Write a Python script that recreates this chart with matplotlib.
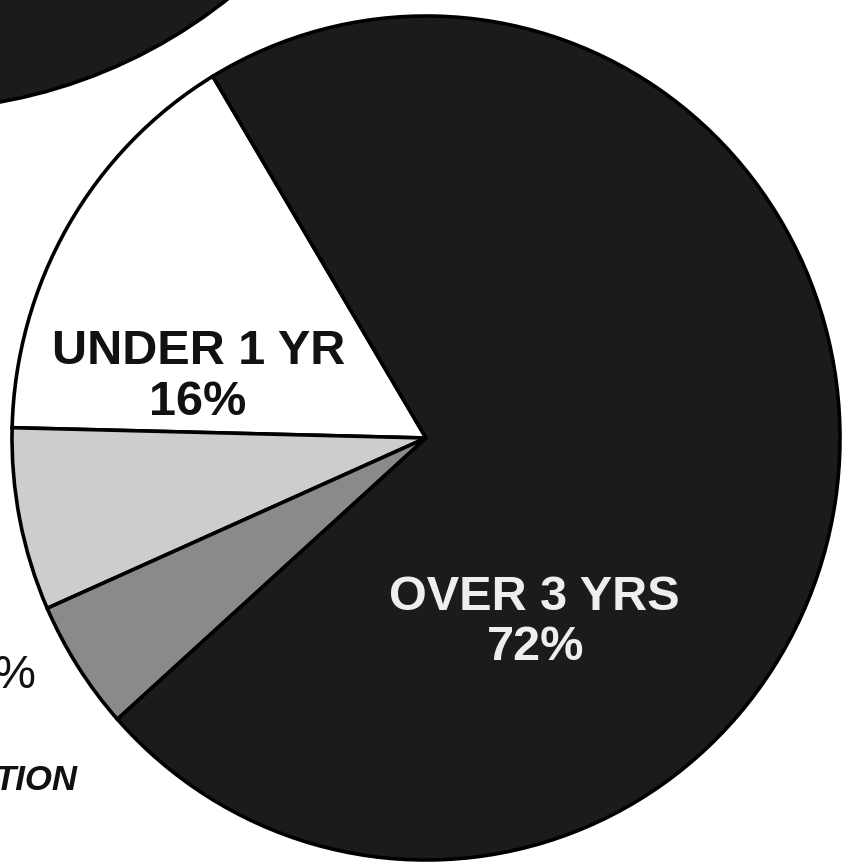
import matplotlib
matplotlib.use("Agg")
import matplotlib.pyplot as plt
from matplotlib.patches import Ellipse

# ---- data ----
categories = ["UNDER 1 YR", "1-2 YRS", "2-3 YRS", "OVER 3 YRS"]
shares = [16, 7, 5, 72]
slice_colors = ["#ffffff", "#cdcdcd", "#8a8a8a", "#1b1b1b"]

# ---- layout (pixels) ----
W, H = 844, 863
cx, cy = 426, 438      # pie centre in image pixels (y from top)
rx, ry = 414, 422      # slightly elliptical scan

fig = plt.figure(figsize=(W / 100, H / 100), dpi=100)
fig.patch.set_facecolor("white")
ax = fig.add_axes([0, 0, 1, 1])

wedges, _ = ax.pie(
    shares,
    colors=slice_colors,
    startangle=121,
    counterclock=True,
    radius=1,
    center=(0, 0),
    wedgeprops=dict(edgecolor="black", linewidth=2.6),
)
ax.set_aspect("auto")
ax.set_xlim(-cx / rx, (W - cx) / rx)
ax.set_ylim(-(H - cy) / ry, cy / ry)
ax.axis("off")

# partial neighbouring pie in the top-left corner
def to_data(x, y):
    return ((x - cx) / rx, (cy - y) / ry)

ex, ey = to_data(-90, -400)
corner = Ellipse((ex, ey), 2 * 510 / rx, 2 * 510 / ry, facecolor="#1b1b1b",
                 edgecolor="black", linewidth=2.6, zorder=0)
ax.add_patch(corner)

font = "Liberation Sans"

def ftext(x, y, s, **kw):
    fig.text(x / W, 1 - y / H, s, **kw)

ftext(199, 364, "UNDER 1 YR", ha="center", va="baseline", fontsize=35,
      fontweight="bold", family=font, color="#111111")
ftext(198, 415, "16%", ha="center", va="baseline", fontsize=35,
      fontweight="bold", family=font, color="#111111")
ftext(534, 610, "OVER 3 YRS", ha="center", va="baseline", fontsize=35,
      fontweight="bold", family=font, color="#eeeeee")
ftext(536, 660, "72%", ha="center", va="baseline", fontsize=35,
      fontweight="bold", family=font, color="#eeeeee")

# cut-off text from the neighbouring chart
ftext(35, 688, "%", ha="right", va="baseline", fontsize=34,
      family=font, color="#111111")
ftext(78, 790, "TION", ha="right", va="baseline", fontsize=25,
      fontweight="bold", fontstyle="italic", family=font, color="#111111")

fig.savefig("out.png", dpi=100, facecolor="white")
